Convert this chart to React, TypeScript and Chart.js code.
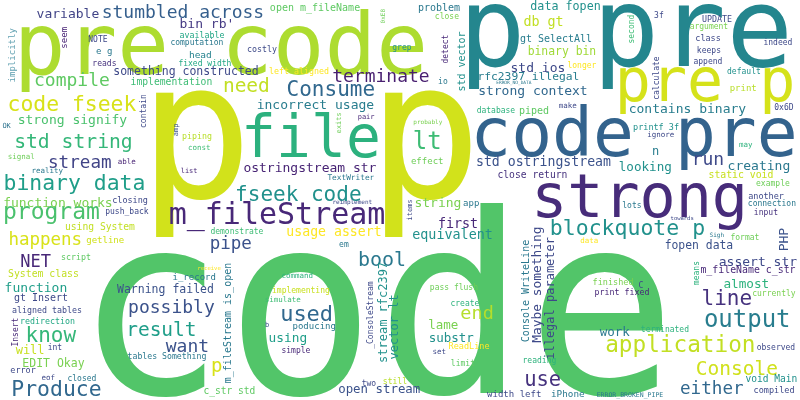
import { useEffect, useRef } from 'react';
import { Chart, registerables } from 'chart.js';

Chart.register(...registerables);

// word, ink centre x, ink centre y, font size, colour, vertical
const words = [
  'code', 'p p', 'p pre', 'pre code', 'code pre', 'strong', 'pre p', 'file', 'm_fileStream',
  'program', 'stumbled across', 'variable', 'implicitly', 'seem', 'NOTE', 'e g', 'reads', "bin rb'",
  'open m_fileName', '0xE8', 'available', 'computation', 'costly', 'head', 'fixed width',
  'something constructed', 'left aligned', 'compile', 'implementation', 'need', 'terminate',
  'Consume', 'code fseek', 'incorrect usage', 'strong signify', 'OK', 'contain', 'amp', 'piping',
  'exits', 'pair', 'std string', 'const', 'signal', 'stream', 'able', 'ostringstream str', 'reality',
  'list', 'TextWriter', 'binary data', 'fseek code', 'function works', 'closing', 'reimplement',
  'push_back', 'using System', 'demonstrate', 'usage assert', 'happens', 'getline', 'pipe', 'em',
  'NET', 'script', 'bool', 'receive', 'System class', 'i_record', 'command', 'function',
  'm_fileStream is_open', 'Warning failed', 'implementing', 'stream rfc2397', 'vector lt',
  'gt Insert', 'simulate', 'aligned tables', 'possibly', 'used', 'redirection', 'know', 'result',
  'Insert', 'b', 'poducing', 'using', '_ConsoleStream', 'want', 'will', 'int', 'simple', 'EDIT Okay',
  'p', 'tables Something', 'error', 'eof', 'closed', 'Produce', 'c_str std', 'two', 'open stream',
  'still', 'problem', 'close', 'data fopen', '3f', 'UPDATE', 'argument', 'second', 'db gt', 'class',
  'gt SelectAll', 'indeed', 'grep', 'detect', 'binary bin', 'keeps', 'std vector', 'append', 'longer',
  'std ios', 'default', 'calculate', 'io', 'rfc2397 illegal', 'ERROR_NO_DATA', 'print',
  'strong context', '0x6D', 'contains binary', 'database', 'piped', 'make', 'probably', 'printf 3f',
  'ignore', 'may', 'lt', 'n', 'effect', 'std ostringstream', 'run', 'creating', 'looking',
  'close return', 'static void', 'example', 'items', 'string', 'app', 'another', 'lots', 'connection',
  'input', 'towards', 'first', 'blockquote p', 'PHP', 'equivalent', 'Sigh', 'format', 'data',
  'fopen data', 'Maybe something', 'illegal parameter', 'Console WriteLine', 'assert str',
  'm_fileName c_str', 'means', 'end', 'finished', 'C', 'almost', 'print fixed', 'line', 'pass flush',
  'currently', 'create', 'output', 'lame', 'work', 'terminated', 'substr', 'application', 'ReadLine',
  'observed', 'set', 'limit', 'reading', 'Console', 'use', 'void Main', 'either', 'compiled',
  'width left', 'iPhone', 'ERROR_BROKEN_PIPE',
];
const xs = [
  380, 313, 628, 222, 635, 640, 706, 312, 277,
  52, 183, 68, 12, 64, 98, 104, 105, 206,
  315, 383, 202, 197, 262, 200, 205,
  186, 299, 72, 171, 246, 381,
  331, 73, 316, 73, 7, 142, 177, 197,
  338, 366, 74, 199, 21, 80, 127, 310, 48,
  189, 351, 75, 299, 58, 130, 353,
  127, 100, 237, 334, 45, 105, 231, 344,
  36, 76, 382, 209, 43, 194, 297, 36,
  228, 165, 301, 382, 393,
  41, 283, 47, 172, 307, 48, 52, 162,
  14, 267, 314, 288, 370, 187, 30, 55, 296, 54,
  217, 167, 23, 48, 82, 57, 229, 369, 379,
  395, 439, 447, 565, 659, 717, 709, 630, 543, 708,
  556, 778, 402, 444, 562, 709, 461, 708, 582,
  538, 744, 655, 443, 529, 514, 743,
  533, 784, 688, 496, 534, 568, 428, 656,
  661, 746, 427, 656, 427, 544, 709, 759, 645,
  532, 741, 773, 409, 438, 471, 766, 632, 772,
  766, 682, 458, 628, 783, 452, 717, 745, 589,
  699, 537, 550, 525, 758,
  748, 696, 477, 613, 641, 746, 622, 727, 454,
  774, 465, 747, 443, 615, 665, 452, 680, 469,
  776, 439, 463, 540, 737, 543, 771, 712, 774,
  514, 568, 630,
];
const ys = [
  300, 163, 46, 50, 137, 202, 90, 135, 216,
  215, 11, 13, 55, 38, 38, 52, 62, 23,
  8, 16, 34, 42, 49, 54, 62,
  71, 71, 81, 82, 84, 75,
  88, 103, 105, 120, 125, 111, 130, 136,
  123, 117, 142, 147, 157, 161, 161, 168, 171,
  170, 177, 184, 193, 202, 200, 202,
  211, 227, 230, 232, 240, 240, 244, 244,
  260, 257, 258, 268, 274, 277, 275, 287,
  323, 289, 290, 312, 327,
  298, 299, 310, 308, 313, 320, 334, 328,
  332, 324, 326, 339, 315, 345, 349, 346, 350, 363,
  368, 356, 370, 377, 377, 388, 391, 382, 390,
  380, 8, 15, 6, 14, 18, 26, 29, 22, 37,
  39, 41, 48, 49, 51, 50, 61, 61, 65,
  67, 70, 78, 80, 77, 83, 88,
  92, 106, 109, 109, 111, 105, 122, 127,
  135, 145, 139, 151, 160, 162, 160, 166, 167,
  174, 174, 183, 210, 203, 204, 195, 204, 202,
  212, 218, 222, 229, 239, 235, 235, 236, 240,
  245, 285, 298, 291, 261,
  270, 273, 312, 281, 284, 283, 292, 297, 287,
  293, 302, 320, 324, 331, 328, 337, 345, 345,
  346, 351, 362, 360, 367, 380, 378, 387, 390,
  393, 393, 395,
];
const sizes = [
  250, 190, 111, 86, 68, 60, 60, 58, 30,
  23, 18, 13, 9, 9, 8, 9, 8, 13,
  10, 6, 8.3, 8, 8.3, 9.5, 8,
  11.5, 8.3, 18, 9.7, 19.5, 18,
  21, 21.4, 13, 13, 7, 8, 7, 8.3,
  7, 7, 19.7, 7.5, 7.5, 17.6, 7.5, 13, 7.5,
  7, 7.8, 21.4, 21, 13, 8.5, 6,
  8, 9.7, 8, 13.2, 17.5, 9, 17.5, 8,
  17, 8.3, 20, 5.5, 9.8, 9, 7.5, 13,
  10, 11.5, 8, 12, 12,
  10, 7.5, 8.3, 18, 22, 8.3, 21, 19.5,
  8, 7, 9, 12.8, 8, 18, 12, 8, 8, 11.5,
  19, 8.2, 8.5, 7.5, 8, 21.4, 9.6, 8, 12.4,
  8, 10, 8, 11.7, 8, 8.3, 8, 8, 13.4, 8.5,
  10, 8, 8, 8, 11.4, 8, 10, 8, 8,
  13, 8, 8, 8, 11.3, 4.5, 9,
  13, 8, 13, 8, 10, 7.5, 6, 8.5,
  7.5, 7.5, 24, 12, 9, 13.2, 18, 13, 12.6,
  9.7, 9.8, 8, 7, 13, 9, 8.5, 8, 8,
  8, 5.5, 13.4, 21.5, 13, 13.4, 6, 8, 7.5,
  11.4, 12.9, 12, 10, 13,
  9.9, 8, 18.5, 8.5, 8, 12.7, 8.3, 21, 8,
  8, 8, 24, 12.5, 12.5, 8, 12.5, 22.7, 8.5,
  8, 7.5, 8, 8, 19.5, 20.5, 9.6, 17.6, 8.5,
  9, 9.3, 6.5,
];
const colors = [
  '#52c569', '#d2e21b', '#24868e', '#addc30', '#33638d', '#472c7a', '#d5e21a', '#2cb17e', '#482878',
  '#4ac16d', '#355f8d', '#414487', '#5e9fb0', '#482475', '#3e4989', '#2a788e', '#46327e', '#443983',
  '#5ec962', '#6ece58', '#21a685', '#2a788e', '#3e4a89', '#26828e', '#22a884',
  '#3e4989', '#fde725', '#5ec962', '#3dbc74', '#c2df23', '#481f70',
  '#31688e', '#d8e219', '#287d8e', '#4ac16d', '#2c728e', '#3e4989', '#3b528b', '#b8de29',
  '#6ece58', '#482878', '#35b779', '#3dbc74', '#6ece58', '#414487', '#482475', '#482475', '#2a788e',
  '#482878', '#2a788e', '#1f9e89', '#21918c', '#7ad151', '#3e4989', '#3e4989',
  '#3e4989', '#c2df23', '#3dbc74', '#fde725', '#d8e219', '#d0e11c', '#3b528b', '#2a788e',
  '#482878', '#5ec962', '#2a788e', '#fde725', '#c2df23', '#2a788e', '#2db27d', '#1f9e89',
  '#2a788e', '#3b528b', '#c8e020', '#21918c', '#21918c',
  '#3e4989', '#3dbc74', '#3e4989', '#3b528b', '#31688e', '#22a884', '#35b779', '#1f9e89',
  '#482878', '#3b528b', '#2a788e', '#1f9e89', '#3e4989', '#3b528b', '#c8e020', '#3e4989', '#482878', '#7ad151',
  '#d8e219', '#2a788e', '#3e4989', '#3e4989', '#2a788e', '#31688e', '#5ec962', '#3e4989', '#3b528b',
  '#b8de29', '#2a788e', '#7ad151', '#21918c', '#3e4989', '#3e4989', '#7ad151', '#3dbc74', '#c2df23', '#3e4989',
  '#287d8e', '#3e4989', '#21918c', '#482878', '#a0da39', '#3e4989', '#21918c', '#3e4989', '#fde725',
  '#3e4989', '#21918c', '#3e4989', '#2a788e', '#287d8e', '#2a788e', '#b8de29',
  '#31688e', '#3e4989', '#287d8e', '#2db27d', '#5ec962', '#3e4989', '#7ad151', '#21918c',
  '#3e4989', '#2db27d', '#3dbc74', '#287d8e', '#6ece58', '#3b528b', '#3e4989', '#2a788e', '#21918c',
  '#46327e', '#c8e020', '#6ece58', '#3e4989', '#7ad151', '#2a788e', '#3e4989', '#2a788e', '#2a788e',
  '#46327e', '#3e4989', '#482878', '#21918c', '#3b528b', '#21918c', '#2a788e', '#6ece58', '#fde725',
  '#3b528b', '#3e4989', '#3e4989', '#2a788e', '#3e4989',
  '#482878', '#2db27d', '#b5de2b', '#7ad151', '#3e4989', '#2db27d', '#482878', '#46327e', '#6ece58',
  '#7ad151', '#2db27d', '#287d8e', '#7ad151', '#2a788e', '#2db27d', '#21918c', '#c2df23', '#fde725',
  '#3e4989', '#3e4989', '#5ec962', '#2db27d', '#d0e11c', '#46327e', '#21918c', '#31688e', '#3e4989',
  '#3e4989', '#2a788e', '#2a788e',
];
const vertical = [
  'implicitly', 'seem', '0xE8', 'contain', 'amp', 'exits', 'm_fileStream is_open', 'stream rfc2397',
  'vector lt', 'Insert', '_ConsoleStream', 'second', 'detect', 'std vector', 'calculate', 'items',
  'PHP', 'Maybe something', 'illegal parameter', 'Console WriteLine', 'means',
];

const FONT = '"DejaVu Sans Mono", "Liberation Mono", monospace';

const wordPlugin = {
  id: 'wordLabels',
  afterDatasetsDraw(chart: Chart) {
    const { ctx } = chart;
    const sx = chart.scales.x;
    const sy = chart.scales.y;
    ctx.save();
    words.forEach((w, i) => {
      const px = sx.getPixelForValue(xs[i]);
      const py = sy.getPixelForValue(ys[i]);
      ctx.font = `${sizes[i]}px ${FONT}`;
      ctx.textAlign = 'left';
      ctx.textBaseline = 'alphabetic';
      ctx.fillStyle = colors[i];
      const m = ctx.measureText(w);
      // centre the ink box, not the advance box
      const cx = (m.actualBoundingBoxRight - m.actualBoundingBoxLeft) / 2;
      const cy = (m.actualBoundingBoxDescent - m.actualBoundingBoxAscent) / 2;
      ctx.save();
      ctx.translate(px, py);
      if (vertical.includes(w)) ctx.rotate(-Math.PI / 2);
      ctx.fillText(w, -cx, -cy);
      ctx.restore();
    });
    ctx.restore();
  },
};

export default function App() {
  const canvasRef = useRef<HTMLCanvasElement | null>(null);

  useEffect(() => {
    if (!canvasRef.current) return;
    const chart = new Chart(canvasRef.current, {
      type: 'scatter',
      data: {
        datasets: [
          {
            data: words.map((_, i) => ({ x: xs[i], y: ys[i] })),
            pointRadius: 0,
            pointHoverRadius: 0,
          },
        ],
      },
      options: {
        animation: false,
        responsive: true,
        maintainAspectRatio: false,
        layout: { padding: 0 },
        events: [],
        scales: {
          x: { type: 'linear', min: 0, max: 800, display: false },
          y: { type: 'linear', min: 0, max: 400, reverse: true, display: false },
        },
        plugins: { legend: { display: false }, tooltip: { enabled: false } },
      },
      plugins: [wordPlugin],
    });
    return () => chart.destroy();
  }, []);

  return (
    <div style={{ position: 'absolute', left: 0, top: 0, width: 800, height: 400, background: '#fff' }}>
      <canvas ref={canvasRef}></canvas>
    </div>
  );
}
